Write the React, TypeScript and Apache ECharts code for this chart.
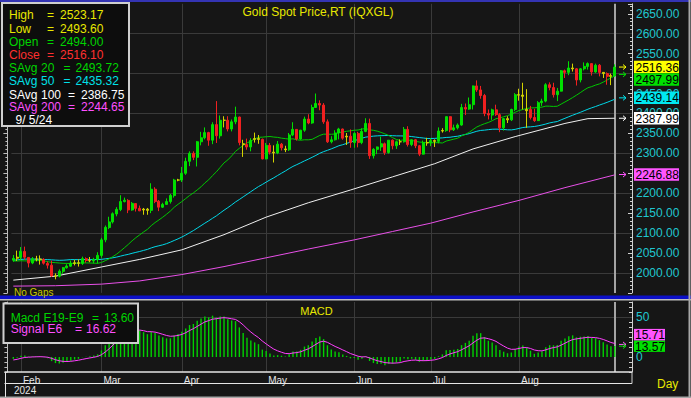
import React, { useEffect, useRef } from 'react';
import * as echarts from 'echarts';

// ---------- calendar (trading days shown) ----------
const JAN_DAYS = [30, 31];
const FEB_DAYS = [1, 2, 5, 6, 7, 8, 9, 12, 13, 14, 15, 16, 19, 20, 21, 22, 23, 26, 27, 28, 29];
const MAR_DAYS = [1, 4, 5, 6, 7, 8, 11, 12, 13, 14, 15, 18, 19, 20, 21, 22, 25, 26, 27, 28, 29];
const APR_DAYS = [1, 2, 3, 4, 5, 8, 9, 10, 11, 12, 15, 16, 17, 18, 19, 22, 23, 24, 25, 26, 29, 30];
const MAY_DAYS = [1, 2, 3, 6, 7, 8, 9, 10, 13, 14, 15, 16, 17, 20, 21, 22, 23, 24, 27, 28, 29, 30, 31];
const JUN_DAYS = [3, 4, 5, 6, 7, 10, 11, 12, 13, 14, 17, 18, 19, 20, 21, 24, 25, 26, 27, 28];
const JUL_DAYS = [1, 2, 3, 4, 5, 8, 9, 10, 11, 12, 15, 16, 17, 18, 19, 22, 23, 24, 25, 26, 29, 30, 31];
const AUG_DAYS = [1, 2, 5, 6, 7, 8, 9, 12, 13, 14, 15, 16, 19, 20, 21, 22, 23, 26, 27, 28, 29, 30];
const SEP_DAYS = [2, 3, 4, 5];
const MONTH_LABELS = ['Jan', 'Feb', 'Mar', 'Apr', 'May', 'Jun', 'Jul', 'Aug', 'Sep'];
const LABELED_MONTHS = ['Feb', 'Mar', 'Apr', 'May', 'Jun', 'Jul', 'Aug'];
const PAD_CATEGORIES = ['+1', '+2', '+3', '+4'];

// ---------- prices ----------
const OPEN = [
  2032, 2037, 2039, 2054, 2039, 2025, 2035, 2035, 2034, 2024,
  2019.5, 1992.5, 1992, 2004, 2013, 2017, 2024, 2025.6, 2024, 2035.8,
  2031, 2030, 2034, 2044, 2083, 2114, 2128, 2148, 2159, 2179,
  2182, 2158, 2174, 2162, 2158, 2160, 2157, 2210, 2180, 2165,
  2172, 2179, 2194, 2233, 2233, 2250, 2280, 2300, 2290, 2329,
  2339, 2352, 2333, 2372, 2344, 2383, 2383, 2361, 2379, 2391,
  2324, 2322, 2316, 2335, 2337, 2335, 2286, 2320, 2303, 2301,
  2323, 2311, 2309, 2346, 2360, 2336, 2358, 2386, 2376, 2415,
  2425, 2421, 2379, 2329, 2334, 2351, 2361, 2341, 2343, 2327,
  2350, 2327, 2355, 2375, 2294, 2310, 2316, 2324, 2302, 2333,
  2319, 2329, 2329, 2360, 2322, 2334, 2319, 2298, 2327, 2326,
  2332, 2330, 2356, 2357, 2392, 2359, 2364, 2371, 2415, 2411,
  2422, 2469, 2459, 2445, 2400, 2396, 2409, 2397, 2364, 2387,
  2384, 2410, 2447, 2446, 2407, 2410, 2390, 2382, 2427, 2431,
  2472, 2465, 2447, 2456, 2507, 2503, 2514, 2512, 2484, 2512,
  2518, 2525, 2504, 2521, 2503, 2500, 2493, 2494,
];
const HIGH = [
  2045, 2056, 2065, 2066, 2040, 2040, 2043, 2044, 2037, 2029,
  2031, 1999, 2009, 2015, 2022, 2031, 2033, 2034, 2041, 2039,
  2040, 2038, 2052, 2088, 2119, 2141, 2152, 2165, 2195, 2189,
  2185, 2178, 2175, 2169, 2163, 2163, 2225, 2215, 2183, 2176,
  2187, 2198, 2236, 2236, 2266, 2289, 2305, 2305, 2331, 2354,
  2365, 2354, 2378, 2431, 2395, 2393, 2393, 2385, 2417, 2392,
  2334, 2337, 2338, 2352, 2346, 2337, 2326, 2326, 2320, 2331,
  2326, 2319, 2351, 2378, 2361, 2359, 2392, 2398, 2422, 2450,
  2433, 2426, 2385, 2343, 2358, 2364, 2362, 2351, 2360, 2353,
  2354, 2363, 2388, 2387, 2313, 2317, 2342, 2327, 2333, 2335,
  2332, 2335, 2366, 2368, 2335, 2336, 2321, 2332, 2339, 2338,
  2335, 2365, 2363, 2392, 2393, 2372, 2375, 2424, 2425, 2440,
  2470, 2483, 2469, 2449, 2410, 2412, 2422, 2401, 2389, 2393,
  2412, 2451, 2462, 2477, 2461, 2419, 2412, 2431, 2437, 2476,
  2478, 2477, 2464, 2509, 2510, 2531, 2525, 2514, 2514, 2528,
  2528, 2526, 2525, 2524, 2504, 2503, 2500, 2523.17,
];
const LOW = [
  2028, 2030, 2032, 2033, 2014, 2022, 2029, 2021, 2021, 2011,
  1990, 1984, 1989, 1998, 2011, 2015, 2019, 2016, 2020, 2026,
  2027, 2024, 2024, 2038, 2077, 2110, 2124, 2142, 2155, 2177,
  2150, 2156, 2154, 2155, 2146, 2146, 2150, 2175, 2155, 2163,
  2171, 2174, 2189, 2230, 2228, 2246, 2268, 2283, 2267, 2320,
  2335, 2319, 2323, 2326, 2337, 2365, 2355, 2355, 2373, 2320,
  2291, 2309, 2305, 2327, 2324, 2285, 2285, 2297, 2277, 2298,
  2307, 2303, 2306, 2343, 2332, 2334, 2354, 2373, 2374, 2414,
  2408, 2374, 2326, 2325, 2332, 2335, 2334, 2321, 2314, 2314,
  2315, 2323, 2353, 2286, 2287, 2298, 2306, 2296, 2299, 2310,
  2311, 2321, 2327, 2317, 2318, 2313, 2293, 2297, 2319, 2318,
  2316, 2325, 2352, 2354, 2353, 2356, 2360, 2369, 2396, 2409,
  2410, 2454, 2437, 2393, 2385, 2384, 2394, 2353, 2357, 2376,
  2381, 2406, 2432, 2410, 2364, 2385, 2379, 2381, 2419, 2428,
  2458, 2440, 2431, 2455, 2489, 2496, 2505, 2470, 2478, 2508,
  2510, 2495, 2502, 2493, 2489, 2472, 2471, 2493.6,
];
const CLOSE = [
  2036.5, 2039.5, 2054.5, 2039.5, 2024.8, 2035.5, 2034.8, 2034, 2024.5, 2019.5,
  1992.5, 1992.2, 2004.4, 2013.3, 2017.5, 2024.6, 2025.6, 2024.2, 2035.8, 2031.2,
  2030.6, 2034, 2044.2, 2083, 2114.5, 2128, 2148.5, 2159.5, 2179, 2182.5,
  2158, 2174.5, 2162, 2155.8, 2160, 2157, 2210, 2179, 2165, 2172,
  2179, 2194.5, 2233, 2233, 2250, 2280, 2300, 2290, 2329, 2339,
  2352, 2333, 2372, 2344, 2383, 2383, 2361, 2379, 2391, 2327,
  2322, 2316, 2332, 2337, 2335, 2286, 2320, 2303, 2301, 2323,
  2314, 2309, 2346, 2360, 2336, 2358, 2386, 2376, 2415, 2425,
  2421, 2379, 2329, 2334, 2351, 2361, 2338, 2343, 2327, 2350,
  2327, 2355, 2375, 2294, 2310, 2316, 2324, 2302, 2333, 2319,
  2329, 2329, 2360, 2322, 2334, 2319, 2298, 2327, 2326, 2332,
  2330, 2356, 2357, 2392, 2359, 2364, 2371, 2415, 2411, 2422,
  2469, 2459, 2445, 2400, 2396, 2409, 2397, 2364, 2387, 2384,
  2410, 2447, 2446, 2443, 2410, 2390, 2382, 2427, 2431, 2472,
  2465, 2447, 2456, 2507, 2503, 2514, 2512, 2484, 2512, 2518,
  2525, 2504, 2521, 2503, 2500, 2493, 2495, 2516.1,
];
// closes before the first visible bar (indicator warm-up: Nov 22 2023 .. Jan 29 2024)
const PRIOR_CLOSE = [
  1990, 1992, 2002, 2014, 2041, 2044, 2036,
  2072, 2029, 2019, 2025, 2028, 2005, 1982, 1980, 2027, 2035, 2019, 2027, 2040, 2031, 2045, 2053, 2053, 2067, 2077, 2065, 2063,
  2063, 2058, 2042, 2043, 2045, 2027, 2029, 2024, 2029, 2049, 2055, 2028, 2006, 2023, 2029, 2022, 2029, 2014, 2021, 2018, 2033,
];
// long averages at bar indices
const SMA100_IDX = [0, 11, 23, 33, 44, 55, 66, 77, 88, 99, 110, 120, 131, 144, 150, 157];
const SMA100_VAL = [1982, 1992, 2015, 2034, 2058, 2096, 2140, 2176, 2208, 2241, 2274, 2311, 2342, 2375, 2387, 2388];
const SMA200_IDX = [0, 11, 23, 33, 44, 55, 66, 77, 89, 99, 109, 120, 132, 144, 157];
const SMA200_VAL = [1967, 1968, 1972, 1980, 1996, 2016, 2038, 2060, 2083, 2104, 2125, 2153, 2182, 2214, 2246];

// ---------- texts / readouts ----------
const LEGEND_SAVG = [2493.72, 2435.32, 2386.75, 2244.65];
const SAVG_PERIODS = ['20', '50', '100', '200'];
const PRICE_TAGS = [2516.36, 2497.99, 2439.14, 2387.99, 2246.88];
const MACD_LEGEND = [13.6, 16.62];
const MACD_TAGS = [15.71, 13.57];
const PRICE_GRID = [2000, 2100, 2200, 2300, 2400, 2500, 2600];
const MACD_GRID = [50];
const CURSOR_DATE = '9/ 5/24';
const YEAR_LABEL = '2024';

const FONT = '"Liberation Sans", Arial, Helvetica, sans-serif';
const C_YELLOW = '#e8e800';
const C_GREEN = '#00d400';
const C_RED = '#ff3030';
const C_CYAN = '#00e0e8';
const C_WHITE = '#ffffff';
const C_MAGENTA = '#ff50ff';
const CANDLE_UP = '#00e000';
const CANDLE_DOWN = '#f02020';
const CANDLE_FLAT = '#d4d400';
const GRID_COL = '#3a3a3a';
const AXIS_LABEL = '#20c8d0';

const pad2 = (n: number) => (n < 10 ? '0' + n : '' + n);
const CATEGORIES: string[] = [JAN_DAYS, FEB_DAYS, MAR_DAYS, APR_DAYS, MAY_DAYS, JUN_DAYS, JUL_DAYS, AUG_DAYS, SEP_DAYS]
  .flatMap((days, m) => days.map((d) => `2024-${pad2(m + 1)}-${pad2(d)}`));
const AXIS_CATEGORIES = [...CATEGORIES, ...PAD_CATEGORIES];
const monthOf = (c: string) => parseInt(c.slice(5, 7), 10);
const MONTH_STARTS: number[] = CATEGORIES.map((_, i) => i).filter(
  (i) => i > 0 && monthOf(CATEGORIES[i]) !== monthOf(CATEGORIES[i - 1]) && LABELED_MONTHS.includes(MONTH_LABELS[monthOf(CATEGORIES[i]) - 1])
);
const MONTH_START_SET = new Set(MONTH_STARTS);
const LAST = CATEGORIES.length - 1;

const ALL_CLOSE = [...PRIOR_CLOSE, ...CLOSE];
function sma(n: number) {
  return CLOSE.map((_, i) => {
    const end = PRIOR_CLOSE.length + i;
    let s = 0;
    for (let k = end - n + 1; k <= end; k++) s += ALL_CLOSE[k];
    return +(s / n).toFixed(2);
  });
}
function ema(arr: number[], n: number) {
  const k = 2 / (n + 1);
  const out: number[] = [];
  let e = arr[0];
  arr.forEach((v, i) => {
    e = i === 0 ? v : e + k * (v - e);
    out.push(e);
  });
  return out;
}
// an axis label hidden behind a value tag is not drawn
const coveredByTag = (v: number) => PRICE_TAGS.some((t) => Math.abs(t - v) < 6);

function buildOption() {
  const sma20 = sma(20);
  const sma50 = sma(50);
  const e9 = ema(ALL_CLOSE, 9);
  const e19 = ema(ALL_CLOSE, 19);
  const macdAll = ALL_CLOSE.map((_, i) => e9[i] - e19[i]);
  const sigAll = ema(macdAll, 6);
  const macd = macdAll.slice(PRIOR_CLOSE.length).map((v) => +v.toFixed(2));
  const signal = sigAll.slice(PRIOR_CLOSE.length).map((v) => +v.toFixed(2));

  const candleData = CLOSE.map((c, i) => {
    const o = OPEN[i];
    const col = Math.abs(c - o) <= 3 ? CANDLE_FLAT : c > o ? CANDLE_UP : CANDLE_DOWN;
    return {
      value: [o, c, LOW[i], HIGH[i]],
      itemStyle: { color: col, color0: col, borderColor: col, borderColor0: col, borderColorDoji: col },
    };
  });

  const monthLines = MONTH_STARTS.map((i) => ({ xAxis: CATEGORIES[i] }));
  const currentLine = { xAxis: CATEGORIES[LAST], lineStyle: { color: '#a4a4a4', width: 2, type: 'solid' } };

  const lineBase = { type: 'line', symbol: 'none', silent: true, z: 2, xAxisIndex: 0, yAxisIndex: 0 };

  return {
    animation: false,
    backgroundColor: '#161616',
    textStyle: { fontFamily: FONT },
    grid: [
      { left: 11.4, right: 59, top: 3.8, height: 289.1 },
      { left: 11.4, right: 59, top: 302, height: 70 },
    ],
    xAxis: [
      {
        type: 'category', gridIndex: 0, data: AXIS_CATEGORIES, boundaryGap: true,
        axisLine: { show: false }, axisTick: { show: false }, axisLabel: { show: false }, splitLine: { show: false },
      },
      {
        type: 'category', gridIndex: 1, data: AXIS_CATEGORIES, boundaryGap: true,
        axisLine: { show: false },
        axisTick: { show: true, alignWithLabel: true, length: 11, interval: (i: number) => MONTH_START_SET.has(i), lineStyle: { color: '#e6e6e6' } },
        axisLabel: {
          interval: (i: number) => MONTH_START_SET.has(i),
          formatter: (v: string) => MONTH_LABELS[monthOf(v) - 1] || '',
          color: '#e6e6e6', fontSize: 10, fontFamily: FONT, align: 'left', margin: 3, padding: [0, 0, 0, 2],
        },
        splitLine: { show: false },
      },
    ],
    yAxis: [
      {
        type: 'value', gridIndex: 0, position: 'right', min: 1950, max: 2675, interval: 50,
        axisLine: { show: true, lineStyle: { color: '#d0d0d0' } },
        axisTick: { show: true, inside: true, length: 4, lineStyle: { color: '#d0d0d0' } },
        minorTick: { show: true, splitNumber: 5, length: 2, lineStyle: { color: '#d0d0d0' } },
        axisLabel: {
          margin: 4, color: AXIS_LABEL, fontSize: 12, fontFamily: FONT,
          formatter: (v: number) => (v >= 2000 && v <= 2650 && !coveredByTag(v) ? v.toFixed(2) : ''),
        },
        splitLine: { show: false },
      },
      {
        type: 'value', gridIndex: 0, position: 'left', min: 1950, max: 2675, interval: 50, offset: 4,
        axisLine: { show: true, lineStyle: { color: '#bdbdbd' } },
        axisTick: { show: true, length: 4, lineStyle: { color: '#bdbdbd' } },
        minorTick: { show: true, splitNumber: 5, length: 2, lineStyle: { color: '#bdbdbd' } },
        axisLabel: { show: false }, splitLine: { show: false },
      },
      {
        type: 'value', gridIndex: 1, position: 'right', min: -18.75, max: 68.75, interval: 6.25,
        axisLine: { show: true, lineStyle: { color: '#d0d0d0' } },
        axisTick: { show: true, inside: true, length: 3, lineStyle: { color: '#d0d0d0' } },
        axisLabel: {
          margin: 4, color: AXIS_LABEL, fontSize: 12, fontFamily: FONT,
          formatter: (v: number) => (Math.abs(v) < 1e-6 ? '0' : Math.abs(v - 50) < 1e-6 ? '50' : ''),
        },
        splitLine: { show: false },
      },
      {
        type: 'value', gridIndex: 1, position: 'left', min: -18.75, max: 68.75, interval: 6.25, offset: 4,
        axisLine: { show: true, lineStyle: { color: '#bdbdbd' } },
        axisTick: { show: true, length: 3, lineStyle: { color: '#bdbdbd' } },
        axisLabel: { show: false }, splitLine: { show: false },
      },
    ],
    series: [
      {
        ...lineBase, name: 'SAvg 200', data: SMA200_IDX.map((x, i) => [x, SMA200_VAL[i]]),
        lineStyle: { color: '#e850e8', width: 1 },
        markLine: {
          silent: true, z: 1, symbol: ['none', 'none'], label: { show: false },
          lineStyle: { color: GRID_COL, width: 1, type: 'solid' },
          data: [...PRICE_GRID.map((v) => ({ yAxis: v })), ...monthLines, currentLine],
        },
      },
      { ...lineBase, name: 'SAvg 100', data: SMA100_IDX.map((x, i) => [x, SMA100_VAL[i]]), lineStyle: { color: '#f0f0f0', width: 1 } },
      { ...lineBase, name: 'SAvg 50', data: sma50, lineStyle: { color: '#00d8e8', width: 1 } },
      { ...lineBase, name: 'SAvg 20', data: sma20, lineStyle: { color: '#00c800', width: 1 } },
      {
        type: 'candlestick', name: 'Price', xAxisIndex: 0, yAxisIndex: 0, z: 3, silent: true,
        barWidth: 2.5, itemStyle: { borderWidth: 1 }, data: candleData,
      },
      {
        type: 'bar', name: 'Macd', xAxisIndex: 1, yAxisIndex: 2, data: macd, barWidth: 1.4, silent: true, z: 2,
        itemStyle: { color: '#00d000' },
        markLine: {
          silent: true, z: 1, symbol: ['none', 'none'], label: { show: false },
          lineStyle: { color: GRID_COL, width: 1, type: 'solid' },
          data: [...MACD_GRID.map((v) => ({ yAxis: v })), ...monthLines, currentLine],
        },
      },
      {
        type: 'line', name: 'Signal', xAxisIndex: 1, yAxisIndex: 2, data: signal, symbol: 'none', silent: true, z: 3,
        lineStyle: { color: '#ff40ff', width: 1 },
      },
    ],
  };
}

function buildGraphics(chart: any) {
  const els: any[] = [];
  const T = (text: string, x: number, y: number, fill: string, size = 12, align = 'left') =>
    els.push({ type: 'text', x, y, z: 100, silent: true, style: { text, fill, font: `${size}px ${FONT}`, align, verticalAlign: 'middle' } });
  const R = (x: number, y: number, w: number, h: number, fill: string, stroke?: string, lw?: number) =>
    els.push({ type: 'rect', z: 90, silent: true, shape: { x, y, width: w, height: h }, style: { fill, stroke: stroke || 'none', lineWidth: lw || 0 } });
  const L = (x1: number, y1: number, x2: number, y2: number, stroke: string, lw = 1) =>
    els.push({ type: 'line', z: 95, silent: true, shape: { x1, y1, x2, y2 }, style: { stroke, lineWidth: lw } });
  const A = (x: number, y: number, color: string) => {
    L(x, y, x + 7, y, color, 1);
    els.push({ type: 'polyline', z: 95, silent: true, shape: { points: [[x + 4, y - 2.5], [x + 7, y], [x + 4, y + 2.5]] }, style: { stroke: color, fill: 'none', lineWidth: 1 } });
  };

  // frame
  R(0, 0, 691, 2, '#3434b4');
  R(0, 295.5, 691, 3.5, '#0c10c8');
  L(0, 299.8, 691, 299.8, '#bdbdbd', 1.5);
  L(689.5, 0, 689.5, 398, '#a8a8a8', 2);
  L(0, 397.2, 691, 397.2, '#a8a8a8', 1.5);

  // title
  T('Gold Spot Price,RT (IQXGL)', 318, 12, C_YELLOW, 12, 'center');

  // legend box (main)
  R(2, 3, 127, 123, '#0d0d0d', '#cfcfcf', 2);
  const rowsY = [15.3, 28.7, 42, 54.7, 68, 81, 94.7, 107.3, 119.5];
  const ohlc = [
    ['High', HIGH[LAST], C_YELLOW],
    ['Low', LOW[LAST], C_YELLOW],
    ['Open', OPEN[LAST], C_GREEN],
    ['Close', CLOSE[LAST], C_RED],
  ] as [string, number, string][];
  ohlc.forEach(([lab, v, col], i) => {
    T(lab, 9, rowsY[i], col);
    T('=', 47, rowsY[i], col);
    T(v.toFixed(2), 60, rowsY[i], col);
  });
  const savgCols = [C_GREEN, C_CYAN, C_WHITE, C_MAGENTA];
  LEGEND_SAVG.forEach((v, i) => {
    const y = rowsY[4 + i];
    const wide = SAVG_PERIODS[i].length > 2;
    T('SAvg', 9, y, savgCols[i]);
    T(SAVG_PERIODS[i], 41, y, savgCols[i]);
    T('=', wide ? 68 : 63.5, y, savgCols[i]);
    T(v.toFixed(2), wide ? 81 : 75.5, y, savgCols[i]);
  });
  T(CURSOR_DATE, 15.5, rowsY[8], C_WHITE);

  T('No Gaps', 14, 292, '#c8c800', 10);

  // MACD panel texts
  T('MACD', 316.5, 310.5, C_YELLOW, 11, 'center');
  R(3.5, 303.5, 134.5, 39.5, '#0d0d0d', '#cfcfcf', 2);
  T('Macd E19-E9', 10.7, 317.7, C_GREEN);
  T('=', 92, 317.7, C_GREEN);
  T(MACD_LEGEND[0].toFixed(2), 104, 317.7, C_GREEN);
  T('Signal E6', 10.7, 329.3, C_MAGENTA);
  T('=', 75, 329.3, C_MAGENTA);
  T(MACD_LEGEND[1].toFixed(2), 86, 329.3, C_MAGENTA);

  // x axis decorations
  L(4.5, 372, 632, 372, '#e6e6e6', 1.5);
  L(4.5, 383.5, 632, 383.5, '#e6e6e6', 1);
  L(5.5, 372, 5.5, 397, '#e6e6e6', 1);
  L(632, 372, 632, 383.5, '#d0d0d0', 1);
  T(YEAR_LABEL, 14, 390.5, '#e6e6e6', 10);
  T('Day', 657, 383.5, C_YELLOW, 12);

  // price tags on the right axis
  const tagCols = ['#ffff00', '#00e000', '#00e8f0', '#ffffff', '#ff55ff'];
  const tagH = 12.5;
  let prev = -Infinity;
  PRICE_TAGS.forEach((v, i) => {
    const yv = chart.convertToPixel({ yAxisIndex: 0 }, v) as number;
    let c = yv;
    if (c < prev + tagH) c = prev + tagH;
    prev = c;
    R(634, c - tagH / 2, 45, tagH, tagCols[i]);
    T(v.toFixed(2), 635.5, c + 0.5, '#000000', 12);
    A(619, yv, tagCols[i]);
  });

  // MACD tags: histogram value keeps its place, signal goes above it
  const yHist = chart.convertToPixel({ yAxisIndex: 2 }, MACD_TAGS[1]) as number;
  const ySig = chart.convertToPixel({ yAxisIndex: 2 }, MACD_TAGS[0]) as number;
  const mH = 11.5;
  R(634, yHist - mH / 2, 31, mH, '#00e000');
  T(MACD_TAGS[1].toFixed(2), 635, yHist + 0.5, '#000000', 12);
  R(634, yHist - mH * 1.5, 31, mH, '#ff55ff');
  T(MACD_TAGS[0].toFixed(2), 635, yHist - mH + 0.5, '#000000', 12);
  A(619, ySig, '#ff55ff');
  A(619, yHist, '#00e000');

  return els;
}

export default function App() {
  const ref = useRef<HTMLDivElement>(null);
  useEffect(() => {
    document.body.style.margin = '0';
    const el = ref.current as HTMLDivElement;
    const chart = echarts.init(el, undefined, { renderer: 'svg', width: 691, height: 398 });
    chart.setOption(buildOption() as any);
    chart.setOption({ graphic: { elements: buildGraphics(chart) } } as any);
    return () => chart.dispose();
  }, []);
  return <div ref={ref} style={{ position: 'absolute', left: 0, top: 0, width: 691, height: 398 }} />;
}
